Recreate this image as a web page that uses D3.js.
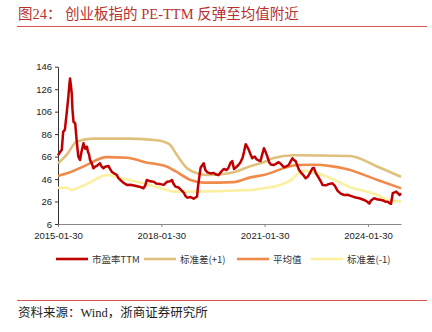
<!DOCTYPE html>
<html><head><meta charset="utf-8">
<script src="https://cdn.jsdelivr.net/npm/d3@7"></script>
<style>
html,body{margin:0;padding:0;background:#fff;}
svg{display:block;}
</style></head>
<body>
<svg id="c" width="432" height="332"></svg>
<script>
// ---- data (time as decimal year) ----
const xTickValues = [2015.08, 2018.08, 2021.08, 2024.08];
const xTickLabels = ["2015-01-30", "2018-01-30", "2021-01-30", "2024-01-30"];
const yTickValues = [6, 26, 46, 66, 86, 106, 126, 146];

const peT = [2015.08,2015.14,2015.19,2015.21,2015.23,2015.28,2015.33,2015.38,2015.41,2015.43,2015.46,2015.48,2015.50,2015.53,2015.58,2015.60,2015.62,2015.67,2015.72,2015.76,2015.82,2015.87,2015.92,2015.95,2015.98,2016.01,2016.06,2016.11,2016.16,2016.22,2016.30,2016.35,2016.40,2016.45,2016.55,2016.59,2016.64,2016.71,2016.79,2016.83,2016.89,2016.97,2017.08,2017.18,2017.32,2017.47,2017.56,2017.61,2017.66,2017.76,2017.86,2017.93,2018.05,2018.15,2018.25,2018.34,2018.39,2018.43,2018.49,2018.58,2018.63,2018.73,2018.78,2018.83,2018.87,2018.93,2019.02,2019.12,2019.14,2019.17,2019.22,2019.31,2019.36,2019.42,2019.51,2019.59,2019.68,2019.74,2019.83,2019.90,2019.97,2020.03,2020.09,2020.14,2020.19,2020.27,2020.32,2020.38,2020.44,2020.48,2020.53,2020.57,2020.62,2020.67,2020.72,2020.79,2020.85,2020.91,2020.96,2021.01,2021.06,2021.11,2021.16,2021.21,2021.26,2021.35,2021.43,2021.49,2021.55,2021.64,2021.72,2021.78,2021.84,2021.89,2021.93,2021.98,2022.03,2022.08,2022.13,2022.19,2022.27,2022.33,2022.39,2022.47,2022.51,2022.57,2022.66,2022.71,2022.76,2022.86,2022.94,2023.05,2023.12,2023.20,2023.29,2023.39,2023.50,2023.58,2023.73,2023.82,2023.87,2023.97,2024.05,2024.12,2024.17,2024.26,2024.34,2024.43,2024.52,2024.58,2024.65,2024.71,2024.75,2024.80,2024.84,2024.90,2024.96,2025.00,2025.04];
const peV = [67,70,72,80,88,90,104,119,130,135.5,128,122,108,97,95.6,88,80.8,66,63,70,77.8,73,74.8,70,68,63,60,55.6,57,58,60,57,55.6,57,57.7,55,52.6,51,49.6,47,45.2,43,40.8,41,40,39,37.8,40,45.2,44,43.7,42,41.5,40.8,43.7,44,45.2,42,39.3,38.5,37,34,31,29.5,29.5,30,28.5,30.5,38,45,56,60,54,52,51,51.5,50,49.5,53,55,54,56,60.5,62,55,57,58.5,61,65,70,77,75,72,68,64.5,66,63.5,62.5,62,68,73.4,70,66,61,59,58.5,60,61,59.5,56.5,57.5,58.5,62,64.5,63,62,58,54.1,52,50,46.7,48,51,55.6,56,51,46.7,44,40.8,40.5,41.5,42.2,40,35.5,33,31.8,32,31,29.5,29,28.5,27.4,26,24.2,27,29,28,27.5,27,26,25.9,24.4,24,33.4,34,34.8,33,31.8,33.4];

const upT = [2015.08,2015.34,2015.62,2016.10,2017.18,2017.95,2018.14,2018.34,2018.50,2018.63,2018.83,2019.12,2019.41,2019.99,2020.18,2020.67,2021.05,2021.34,2021.93,2023.55,2024.36,2025.04];
const upV = [60,68,79.3,82,82,80.5,79.3,76.3,69,63,55.6,51.2,49.6,51,52,57.5,61,64.8,67.2,66.5,57,48];

const meanT = [2015.08,2015.43,2015.87,2016.50,2017.08,2017.61,2018.25,2018.49,2018.93,2019.30,2020.18,2020.67,2021.05,2022.03,2022.55,2023.00,2023.45,2024.36,2025.04];
const meanV = [48.8,52,58,65.5,65,61,57,53,45.2,42.8,43.3,47.5,49.6,58.5,58.7,57.5,55,45.2,37.8];

const lowT = [2015.08,2015.34,2015.48,2015.72,2016.01,2016.50,2016.79,2017.56,2018.25,2018.43,2018.72,2020.67,2021.05,2021.55,2021.84,2022.18,2022.40,2023.00,2023.52,2024.36,2024.65,2025.04];
const lowV = [38.3,38.3,36.3,39,43,49.6,47.6,42.2,36.3,34.8,34.8,36.3,37.8,41,45,53.5,52.6,46.7,39.3,31.8,27.4,26];

const seriesNames = ["市盈率TTM", "标准差(+1)", "平均值", "标准差(-1)"];
const seriesColors = ["#C00000", "#DFC07C", "#F08A4B", "#FAF0A0"];

// ---- drawing ----
const svg = d3.select("#c");
const x = d3.scaleLinear().domain([2015.08, 2025.04]).range([58, 401]);
const y = d3.scaleLinear().domain([6, 146]).range([224, 66.7]);

const cjkSerif = "'Liberation Serif','DejaVu Serif','Noto Sans CJK SC',serif";
const cjkSans = "'Noto Sans CJK SC','DejaVu Sans',sans-serif";
const numFont = "'Liberation Sans',Arial,sans-serif";

// title
svg.append("text").attr("x", 18).attr("y", 18.5)
  .attr("font-family", cjkSerif).attr("font-size", 14.5).attr("fill", "#B8312F")
  .text("图24：  创业板指的 PE-TTM 反弹至均值附近");
svg.append("line").attr("x1", 17).attr("x2", 427).attr("y1", 26.5).attr("y2", 26.5)
  .attr("stroke", "#D9534F").attr("stroke-width", 1);

// axes
const xAxis = d3.axisBottom(x).tickValues(xTickValues)
  .tickFormat((d, i) => xTickLabels[i]).tickSize(3).tickSizeOuter(0);
const gx = svg.append("g").attr("transform", "translate(0,224)").call(xAxis);
gx.select(".domain").attr("stroke", "#888");
gx.selectAll(".tick line").attr("stroke", "#888");
gx.selectAll("text").attr("font-family", numFont).attr("font-size", 9.5).attr("fill", "#222").attr("y", 6).attr("dy", "0.95em");

const yAxis = d3.axisLeft(y).tickValues(yTickValues).tickSize(3).tickSizeOuter(0);
const gy = svg.append("g").attr("transform", "translate(58,0)").call(yAxis);
gy.select(".domain").attr("stroke", "#333");
gy.selectAll(".tick line").attr("stroke", "#333");
gy.selectAll("text").attr("font-family", numFont).attr("font-size", 9.5).attr("fill", "#222");

// lines
const mk = (T, V) => T.map((t, i) => [t, V[i]]);
const smooth = d3.line().x(d => x(d[0])).y(d => y(d[1])).curve(d3.curveMonotoneX);
const rough = d3.line().x(d => x(d[0])).y(d => y(d[1]));

const bands = [[lowT, lowV, 3], [meanT, meanV, 2], [upT, upV, 1]];
bands.forEach(([T, V, ci]) => {
  svg.append("path").attr("d", smooth(mk(T, V))).attr("fill", "none")
    .attr("stroke", seriesColors[ci]).attr("stroke-width", 2.6).attr("stroke-linejoin", "round");
});
svg.append("path").attr("d", rough(mk(peT, peV))).attr("fill", "none")
  .attr("stroke", seriesColors[0]).attr("stroke-width", 2.5).attr("stroke-linejoin", "round");

// legend
const legX = [56, 144, 237, 311];
seriesNames.forEach((n, i) => {
  const g = svg.append("g").attr("transform", `translate(${legX[i]},259)`);
  g.append("line").attr("x1", 0).attr("x2", 32).attr("y1", 0).attr("y2", 0)
    .attr("stroke", seriesColors[i]).attr("stroke-width", 2.6);
  g.append("text").attr("x", 36).attr("y", 3.5).attr("font-family", cjkSans)
    .attr("font-size", 9.5).attr("fill", "#333").text(n);
});

// footer
svg.append("line").attr("x1", 17).attr("x2", 427).attr("y1", 300.5).attr("y2", 300.5)
  .attr("stroke", "#D9534F").attr("stroke-width", 1);
svg.append("text").attr("x", 18).attr("y", 317)
  .attr("font-family", cjkSerif).attr("font-size", 12.5).attr("fill", "#222")
  .text("资料来源：Wind，浙商证券研究所");
</script>
</body></html>
